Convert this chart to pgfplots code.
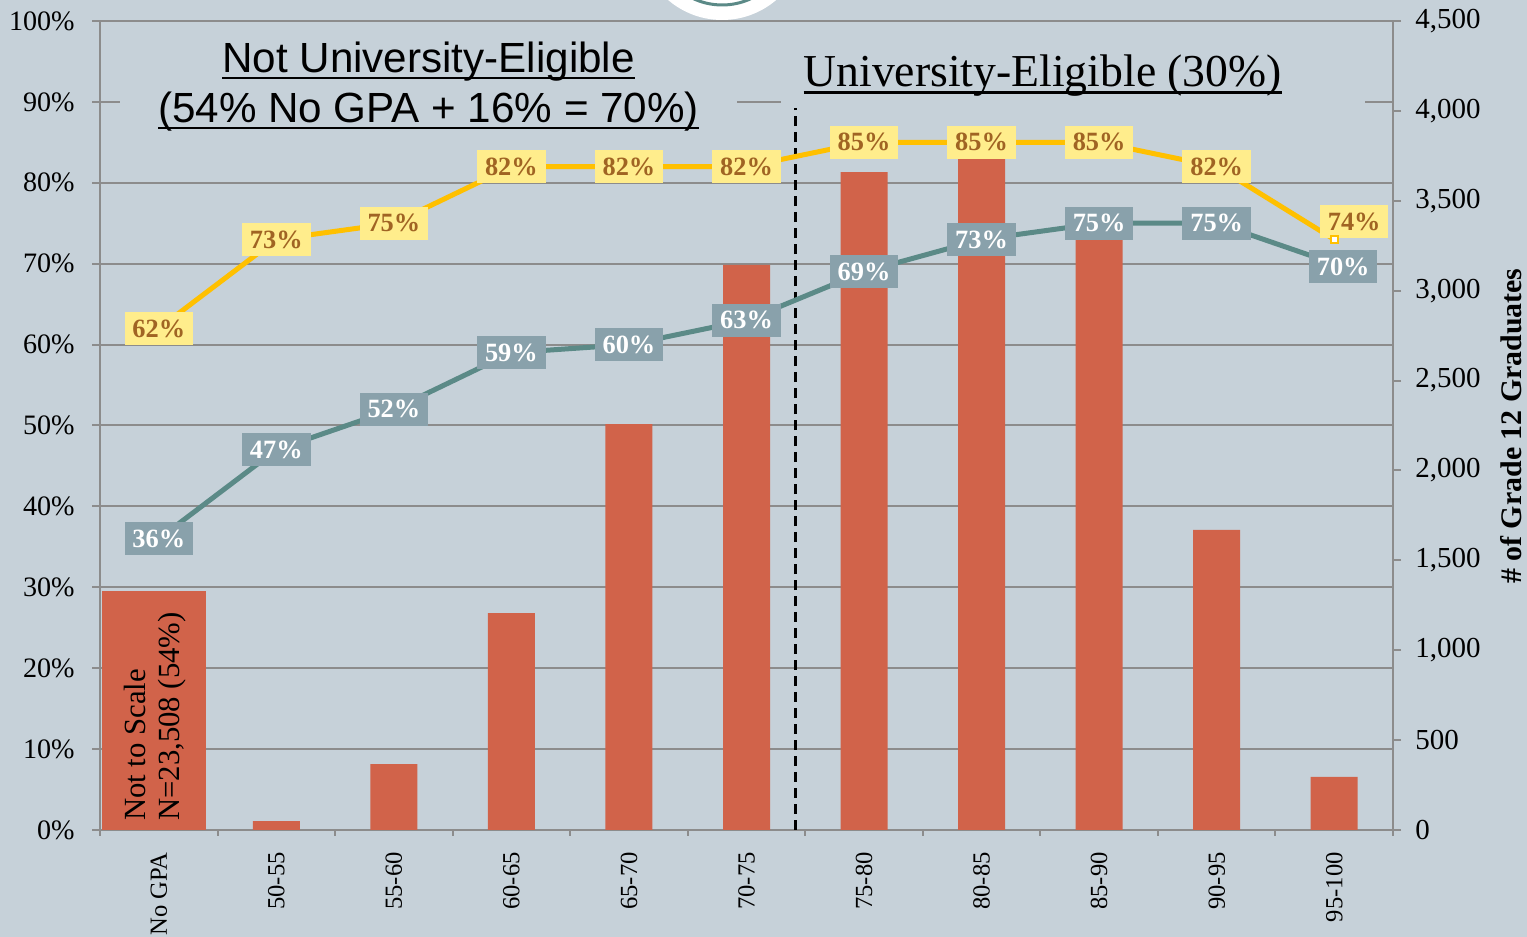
\documentclass[border=0pt]{standalone}
\usepackage{fontspec}
\setmainfont{Liberation Serif}
\newfontfamily\sansf{Liberation Sans}
\usepackage{pgfplots}
\pgfplotsset{compat=1.18}

\definecolor{bg}{RGB}{198,209,217}
\definecolor{barc}{RGB}{209,99,74}
\definecolor{gold}{RGB}{255,192,0}
\definecolor{goldbox}{RGB}{255,237,140}
\definecolor{goldtxt}{RGB}{160,100,35}
\definecolor{teal2}{RGB}{91,138,135}
\definecolor{tealbox}{RGB}{137,161,171}
\definecolor{gridc}{RGB}{140,140,140}

\newcommand{\ul}[1]{\setbox0\hbox{#1}\rlap{\rule[-0.17em]{\wd0}{1.5pt}}\box0}

\pgfplotstableread{
x y lab dx dy
0 62 62 0 0
1 73 73 0 0
2 75 75 0 0
3 82 82 0 0
4 82 82 0 0
5 82 82 0 0
6 85 85 0 0
7 85 85 0 0
8 85 85 0 0
9 82 82 0 0
10 73 74 0.40 0.36
}\yellowdata

\pgfplotstableread{
x y lab dx dy
0 36 36 0 0
1 47 47 0 0
2 52 52 0 0
3 59 59 0 0
4 60 60 0 0
5 63 63 0 0
6 69 69 0 0
7 73 73 0 0
8 75 75 0 0
9 75 75 0 0
10 70 70 0.18 -0.06
}\tealdata

\pgfplotsset{
  base/.style={
    at={(0,0)}, anchor=south west, scale only axis,
    width=25.86cm, height=16.18cm,
    xmin=-0.5, xmax=10.5,
    /pgf/number format/assume math mode=true,
  },
}

\begin{document}
\begin{tikzpicture}
\useasboundingbox (-2,-2.14) rectangle (28.54,16.6);
\fill[bg] (-2,-2.14) rectangle (28.54,16.6);
\clip (-2,-2.14) rectangle (28.54,16.6);

% left axis, grid and categories
\begin{axis}[base,
  ymin=0, ymax=100,
  axis x line*=bottom, axis y line*=left,
  axis line style={draw=gridc, line width=0.04cm, -},
  ytick={0,10,...,100},
  yticklabel={\pgfmathprintnumber{\tick}\%},
  yticklabel style={font=\fontsize{16}{18}\selectfont, inner sep=0pt},
  yticklabel shift=0.34cm,
  ymajorgrids,
  grid style={draw=gridc, line width=0.04cm},
  tick align=outside,
  major tick length=0.16cm,
  minor tick length=0.12cm,
  tick style={draw=gridc, line width=0.04cm},
  xtick={0,...,10},
  major x tick style={draw=none},
  minor xtick={-0.5,0.5,...,10.5},
  xticklabels={No GPA,50-55,55-60,60-65,65-70,70-75,75-80,80-85,85-90,90-95,95-100},
  xticklabel style={rotate=90, anchor=east, inner sep=0pt, font=\fontsize{14}{16}\selectfont},
  xticklabel shift=0.28cm,
]
\end{axis}

% boxes behind the titles
\begin{scope}[x=0.02cm, y=-0.02cm, shift={(-2cm,16.6cm)}]
\fill[bg] (120,23) rectangle (737,135);
\fill[bg] (781,40) rectangle (1365,107);
\fill[white] (722,-63) circle (83);
\draw[teal2, line width=0.06cm] (722,-63) circle (68);
\node[anchor=base, font=\sansf\fontsize{24}{28}\selectfont, inner sep=0pt] at (428.5,72) {\ul{Not University-Eligible}};
\node[anchor=base, font=\sansf\fontsize{24}{28}\selectfont, inner sep=0pt] at (428.5,122) {\ul{(54\% No GPA + 16\% = 70\%)}};
\node[anchor=base, font=\fontsize{26}{30}\selectfont, inner sep=0pt] at (1042.5,86) {\ul{University-Eligible (30\%)}};
\node[rotate=90, font=\bfseries\fontsize{17}{20}\selectfont, inner sep=0pt] at (1511,426) {\# of Grade 12 Graduates};
\end{scope}

% bars, right axis
\begin{axis}[base,
  ymin=0, ymax=4500,
  axis x line=none, axis y line*=right,
  axis line style={draw=gridc, line width=0.04cm, -},
  xtick=\empty,
  ytick={0,500,...,4500},
  yticklabel style={font=\fontsize{16.5}{18}\selectfont, inner sep=0pt},
  yticklabel shift=0.28cm,
  tick align=outside,
  major tick length=0.16cm,
  tick style={draw=gridc, line width=0.04cm},
]
\addplot[ybar, bar width=2.08cm, bar shift=-0.1cm, fill=barc, draw=none] coordinates {(0,1330)};
\addplot[ybar, bar width=0.94cm, bar shift=0pt, fill=barc, draw=none] coordinates {
(1,50) (2,367) (3,1207) (4,2258) (5,3143) (6,3660) (7,3780) (8,3300) (9,1669) (10,295)};
\end{axis}

% rate lines
\begin{axis}[base,
  ymin=0, ymax=100, hide axis, clip=false,
]
\draw[black, line width=0.06cm, dash pattern=on 0.2cm off 0.12cm] (5.413,0) -- (5.413,89.2);
\addplot[gold, line width=0.1cm, line join=round, mark=none,
  point meta=explicit,
  visualization depends on={\thisrow{dx} \as \dx},
  visualization depends on={\thisrow{dy} \as \dy},
  nodes near coords={\pgfmathprintnumber{\pgfplotspointmeta}\%},
  nodes near coords style={anchor=center, xshift=\dx cm, yshift=\dy cm,
    fill=goldbox, text=goldtxt, font=\bfseries\fontsize{15}{17}\selectfont,
    minimum width=1.37cm, minimum height=0.66cm, inner sep=0pt},
] table[x=x, y=y, meta=lab] {\yellowdata};
\addplot[only marks, mark=square*, mark size=0.07cm, mark options={fill=white, draw=gold, line width=0.04cm}] coordinates {(10,73)};
\addplot[teal2, line width=0.1cm, line join=round, mark=none,
  point meta=explicit,
  visualization depends on={\thisrow{dx} \as \dx},
  visualization depends on={\thisrow{dy} \as \dy},
  nodes near coords={\pgfmathprintnumber{\pgfplotspointmeta}\%},
  nodes near coords style={anchor=center, xshift=\dx cm, yshift=\dy cm,
    fill=tealbox, text=white, font=\bfseries\fontsize{15}{17}\selectfont,
    minimum width=1.37cm, minimum height=0.66cm, inner sep=0pt},
] table[x=x, y=y, meta=lab] {\tealdata};
\end{axis}

\begin{scope}[x=0.02cm, y=-0.02cm, shift={(-2cm,16.6cm)}]
\node[rotate=90, anchor=west, inner sep=0pt, font=\fontsize{17.5}{20}\selectfont] at (135,821) {Not to Scale};
\node[rotate=90, anchor=west, inner sep=0pt, font=\fontsize{17.5}{20}\selectfont] at (172,821) {N=23,508 (54\%)};
\end{scope}
\end{tikzpicture}
\end{document}
